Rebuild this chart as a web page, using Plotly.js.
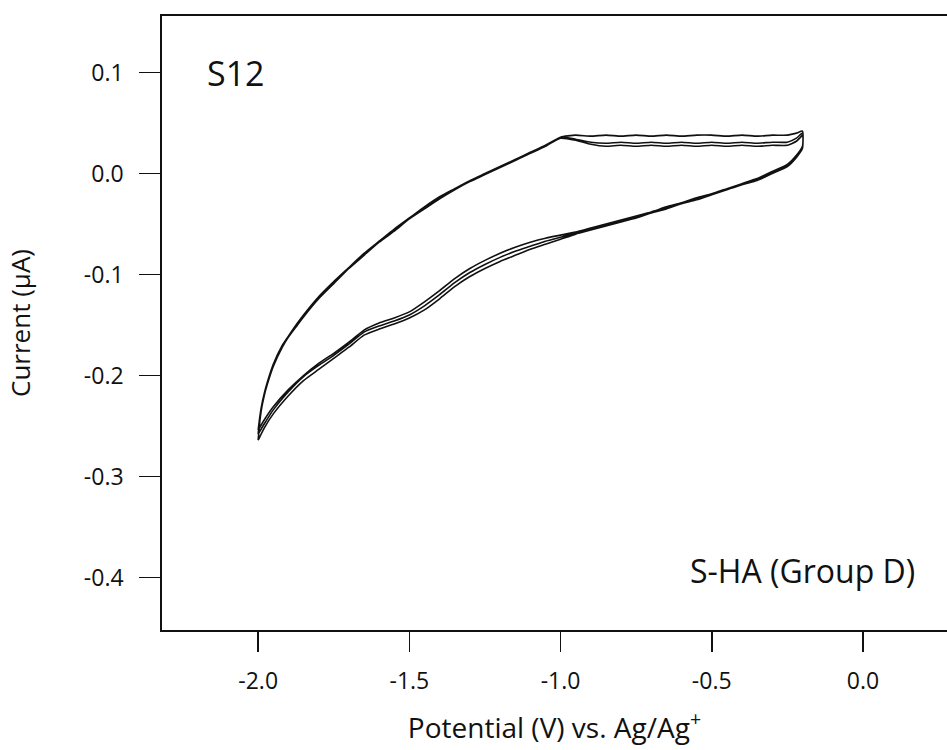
<!DOCTYPE html>
<html>
<head>
<meta charset="utf-8">
<script src="https://cdn.plot.ly/plotly-3.0.1.min.js"></script>
<style>html,body{margin:0;padding:0;background:#fff;}#chart{width:947px;height:750px;}</style>
</head>
<body>
<div id="chart"></div>
<script>
// Potential (V vs Ag/Ag+) for the cathodic sweep (-0.2 -> -2.0)
const potentialDown = [-0.20,-0.22,-0.25,-0.30,-0.35,-0.40,-0.45,-0.50,-0.55,-0.60,-0.65,-0.70,-0.75,-0.80,-0.85,-0.90,-0.95,-1.00,-1.05,-1.10,-1.15,-1.20,-1.25,-1.30,-1.35,-1.40,-1.45,-1.50,-1.55,-1.60,-1.65,-1.70,-1.75,-1.80,-1.85,-1.90,-1.95,-1.98,-2.00];
// Potential for the anodic sweep (-2.0 -> -0.2)
const potentialUp = [-2.00,-1.995,-1.99,-1.98,-1.97,-1.95,-1.92,-1.90,-1.87,-1.85,-1.80,-1.75,-1.70,-1.65,-1.60,-1.55,-1.50,-1.45,-1.40,-1.35,-1.30,-1.25,-1.20,-1.15,-1.10,-1.05,-1.00,-0.95,-0.90,-0.85,-0.80,-0.75,-0.70,-0.65,-0.60,-0.55,-0.50,-0.45,-0.40,-0.35,-0.30,-0.25,-0.22,-0.20];

// Current (uA), cycle 1
const currentDown1 = [0.026,0.017,0.008,0.001,-0.006,-0.010,-0.016,-0.020,-0.025,-0.029,-0.034,-0.038,-0.043,-0.047,-0.051,-0.055,-0.059,-0.063,-0.067,-0.072,-0.077,-0.083,-0.090,-0.098,-0.108,-0.120,-0.131,-0.140,-0.146,-0.151,-0.157,-0.169,-0.180,-0.190,-0.201,-0.216,-0.234,-0.248,-0.258];
const currentUp1 = [-0.258,-0.244,-0.233,-0.219,-0.208,-0.190,-0.171,-0.161,-0.149,-0.141,-0.123,-0.108,-0.093,-0.080,-0.067,-0.056,-0.044,-0.034,-0.024,-0.015,-0.007,-0.001,0.007,0.013,0.020,0.027,0.036,0.038,0.037,0.038,0.037,0.038,0.037,0.038,0.037,0.038,0.038,0.037,0.038,0.037,0.038,0.038,0.040,0.042];
// cycle 2
const currentDown2 = [0.027,0.018,0.009,0.002,-0.005,-0.010,-0.015,-0.020,-0.024,-0.029,-0.033,-0.038,-0.042,-0.046,-0.050,-0.054,-0.058,-0.061,-0.064,-0.068,-0.073,-0.079,-0.086,-0.094,-0.104,-0.116,-0.127,-0.137,-0.143,-0.148,-0.155,-0.167,-0.178,-0.188,-0.200,-0.214,-0.231,-0.244,-0.254];
const currentUp2 = [-0.254,-0.242,-0.232,-0.218,-0.207,-0.189,-0.170,-0.161,-0.148,-0.140,-0.122,-0.107,-0.093,-0.079,-0.067,-0.055,-0.044,-0.033,-0.023,-0.015,-0.007,0.000,0.007,0.014,0.021,0.028,0.036,0.034,0.031,0.030,0.031,0.030,0.031,0.030,0.031,0.030,0.031,0.030,0.031,0.030,0.031,0.031,0.035,0.040];
// cycle 3
const currentDown3 = [0.025,0.016,0.007,0.000,-0.007,-0.011,-0.016,-0.021,-0.026,-0.030,-0.035,-0.039,-0.044,-0.048,-0.052,-0.056,-0.060,-0.065,-0.070,-0.075,-0.081,-0.087,-0.094,-0.102,-0.112,-0.124,-0.135,-0.143,-0.149,-0.154,-0.160,-0.172,-0.183,-0.194,-0.205,-0.220,-0.238,-0.252,-0.264];
const currentUp3 = [-0.264,-0.247,-0.235,-0.220,-0.209,-0.191,-0.172,-0.162,-0.150,-0.142,-0.124,-0.109,-0.094,-0.081,-0.068,-0.057,-0.045,-0.035,-0.025,-0.016,-0.008,-0.001,0.006,0.013,0.020,0.027,0.035,0.033,0.029,0.027,0.028,0.027,0.028,0.027,0.028,0.027,0.028,0.027,0.028,0.027,0.028,0.028,0.032,0.038];

const xTickVals = [-2.0,-1.5,-1.0,-0.5,0.0];
const xTickText = ['-2.0','-1.5','-1.0','-0.5','0.0'];
const yTickVals = [0.1,0.0,-0.1,-0.2,-0.3,-0.4];
const yTickText = ['0.1','0.0','-0.1','-0.2','-0.3','-0.4'];

const xs = [].concat(potentialDown, potentialUp, potentialDown, potentialUp, potentialDown, potentialUp);
const ys = [].concat(currentDown1, currentUp1, currentDown2, currentUp2, currentDown3, currentUp3);

const font = 'Open Sans, Noto Sans, sans-serif';

const data = [{
  x: xs, y: ys, type: 'scatter', mode: 'lines',
  line: {color: '#111', width: 1.6, shape: 'spline', smoothing: 0.5},
  showlegend: false, hoverinfo: 'skip'
}];

const layout = {
  width: 947, height: 750,
  margin: {l: 162, r: 0, t: 16, b: 120},
  paper_bgcolor: '#fff', plot_bgcolor: '#fff',
  font: {family: font, color: '#111', size: 23},
  xaxis: {
    range: [-2.318, 0.278], tickvals: xTickVals, ticktext: xTickText,
    showline: true, linecolor: '#111', linewidth: 1.8, mirror: true,
    ticks: 'outside', ticklen: 20, tickwidth: 1.6, tickcolor: '#111',
    showgrid: false, zeroline: false, ticklabelstandoff: 10,
    tickfont: {family: font, size: 23, color: '#111'},
    title: {text: 'Potential (V) vs. Ag/Ag<sup>+</sup>', font: {family: font, size: 28, color: '#111'}, standoff: 23}
  },
  yaxis: {
    range: [-0.452, 0.156], tickvals: yTickVals, ticktext: yTickText,
    showline: true, linecolor: '#111', linewidth: 1.8, mirror: false,
    ticks: 'outside', ticklen: 21, tickwidth: 1.6, tickcolor: '#111',
    showgrid: false, zeroline: false, ticklabelstandoff: 11,
    tickfont: {family: font, size: 23, color: '#111'},
    title: {text: 'Current (μA)', font: {family: font, size: 26, color: '#111'}, standoff: 46}
  },
  annotations: [
    {text: 'S12', xref: 'x', yref: 'y', x: -2.175, y: 0.1000, xanchor: 'left', yanchor: 'middle', showarrow: false, font: {family: font, size: 34, color: '#111'}},
    {text: 'S-HA (Group D)', xref: 'x', yref: 'y', x: 0.180, y: -0.393, xanchor: 'right', yanchor: 'middle', showarrow: false, font: {family: font, size: 32, color: '#111'}}
  ]
};

Plotly.newPlot('chart', data, layout, {displayModeBar: false, staticPlot: true});
</script>
</body>
</html>
